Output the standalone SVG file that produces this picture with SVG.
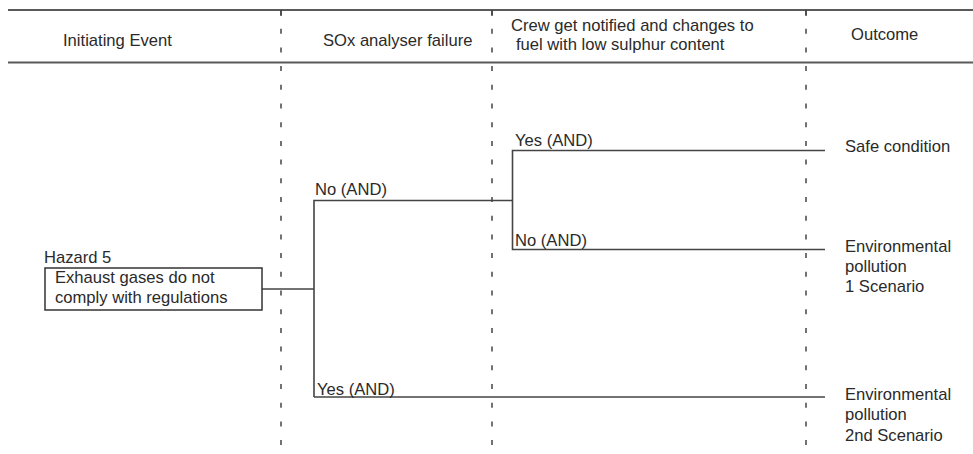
<svg xmlns="http://www.w3.org/2000/svg" width="973" height="454" viewBox="0 0 973 454">
<style>
text{font-family:"Liberation Sans",Arial,sans-serif;font-size:16.6px;fill:#2a2a2a}
.hdr{stroke:#5a5a5a;stroke-width:2;fill:none}
.dash{stroke:#444;stroke-width:1.5;stroke-dasharray:5 13.7;fill:none}
.ln{stroke:#444;stroke-width:1.6;fill:none}
.box{stroke:#333;stroke-width:1.5;fill:#fff}
</style>
<rect width="973" height="454" fill="#fff"/>
<g id="header">
<line class="hdr" x1="8" y1="10" x2="973" y2="10"/>
<line class="hdr" x1="8" y1="62.5" x2="973" y2="62.5"/>
<text x="63" y="45.5">Initiating Event</text>
<text x="323" y="45.5">SOx analyser failure</text>
<text x="511" y="30.5">Crew get notified and changes to</text>
<text x="516" y="50">fuel with low sulphur content</text>
<text x="851" y="40">Outcome</text>
</g>
<g id="columns">
<line class="dash" x1="281" y1="10" x2="281" y2="454"/>
<line class="dash" x1="492" y1="10" x2="492" y2="454"/>
<line class="dash" x1="806" y1="10" x2="806" y2="454"/>
<line class="dash" x1="281" y1="10" x2="281" y2="16" style="stroke-dasharray:none"/>
<line class="dash" x1="492" y1="10" x2="492" y2="16" style="stroke-dasharray:none"/>
<line class="dash" x1="806" y1="10" x2="806" y2="16" style="stroke-dasharray:none"/>
</g>
<g id="connectors">
<polyline class="ln" points="262,289 314,289"/>
<polyline class="ln" points="314,397 314,200.5 512.5,200.5"/>
<polyline class="ln" points="825,150.5 512.5,150.5 512.5,249.5 825,249.5"/>
<polyline class="ln" points="314,397 825,397"/>
</g>
<g id="hazard">
<text x="44" y="263">Hazard 5</text>
<rect class="box" x="45" y="268" width="217" height="42"/>
<text x="55" y="283">Exhaust gases do not</text>
<text x="55" y="303">comply with regulations</text>
</g>
<g id="branch-labels">
<text x="315" y="195">No (AND)</text>
<text x="515" y="146">Yes (AND)</text>
<text x="515" y="246">No (AND)</text>
<text x="317" y="394.5">Yes (AND)</text>
</g>
<g id="outcome-safe">
<text x="845" y="152">Safe condition</text>
</g>
<g id="outcome-pollution-1">
<text x="845" y="251.5">Environmental</text>
<text x="845" y="271.5">pollution</text>
<text x="845" y="291.5">1 Scenario</text>
</g>
<g id="outcome-pollution-2">
<text x="845" y="399.5">Environmental</text>
<text x="845" y="420">pollution</text>
<text x="845" y="440.5">2nd Scenario</text>
</g>
</svg>
